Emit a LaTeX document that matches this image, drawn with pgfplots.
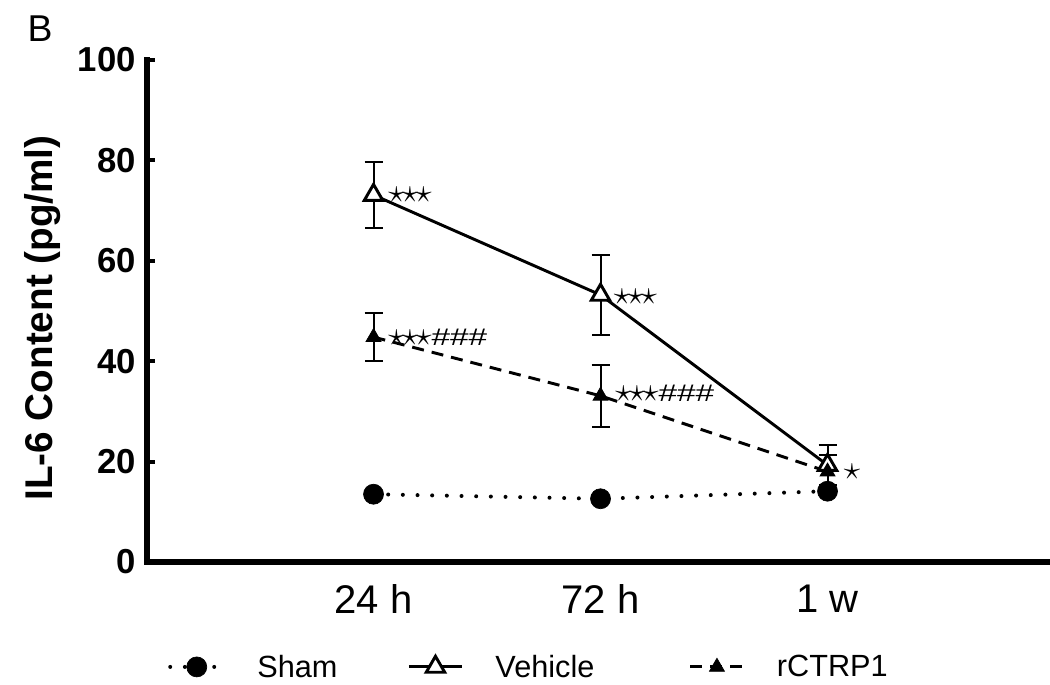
\documentclass[border=0pt]{standalone}
\usepackage{fontspec}
\setmainfont{Liberation Sans}
\usepackage{graphicx}
\usepackage{pgfplots}
\pgfplotsset{compat=1.18}

\pgfplotstableread{
x y e
1 73.1 6.6
2 53.2 8.0
3 19.3 4.0
}\vehicle
\pgfplotstableread{
x y e
1 44.8 4.8
2 33.1 6.2
3 18.0 3.3
}\rctrp
\pgfplotstableread{
x y
1 13.5
2 12.6
3 14.1
}\sham

\newcommand{\sstar}[1]{{\fontsize{25}{25}\selectfont$#1$}}
\newcommand{\three}{{\star}\mkern-1.5mu{\star}\mkern-1.5mu{\star}}
\newcommand{\hh}{{\fontsize{25}{25}\selectfont\scalebox{1}[0.72]{\#\#\#}}}

\begin{document}
\begin{tikzpicture}
\begin{axis}[
  scale only axis, width=681pt, height=376.5pt,
  xmin=0, xmax=4, ymin=0, ymax=100,
  clip=false,
  axis x line*=bottom, axis y line*=left,
  axis line style={line width=4.5pt, line cap=rect},
  xtick={1,2,3}, xticklabels={24 h,72 h,1 w},
  x tick style={draw=none},
  ytick={0,20,...,100},
  tick align=inside,
  y tick style={line width=3pt, black},
  major tick length=6.3pt,
  /pgf/number format/assume math mode=true,
  yticklabel style={font=\bfseries\fontsize{26}{26}\selectfont, inner sep=0pt, anchor=east, xshift=-8pt},
  xticklabel style={font=\fontsize{30}{30}\selectfont, inner sep=0pt, anchor=north, yshift=-17pt},
  ylabel={IL-6 Content (pg/ml)},
  every axis y label/.style={at={([xshift=-77.6pt]axis description cs:0,0.486)}, rotate=90, anchor=center, font=\bfseries\fontsize{29}{29}\selectfont},
  legend columns=3,
  legend style={at={(axis description cs:0.0236,-0.209)}, anchor=west, draw=none, fill=none, inner sep=0pt,
    font=\fontsize{23}{23}\selectfont, nodes={inner sep=0pt},
    /tikz/every odd column/.append style={column sep=24pt},
    /tikz/column 2/.append style={column sep=52.5pt},
    /tikz/column 4/.append style={column sep=70.9pt}},
  legend image code/.code={\draw[mark repeat=2,mark phase=2] plot coordinates {(0cm,0cm) (0.7cm,0cm) (1.4cm,0cm)};},
]
\addplot[black, line width=3pt, dash pattern=on 0pt off 11pt, line cap=round,
  mark=*, mark size=7.5pt, mark options={solid, fill=black, line width=0.5pt}]
  table[x=x, y=y] {\sham};
\addlegendentry{Sham}
\addplot[black, line width=2.2pt, mark=triangle*, mark size=8pt,
  mark options={solid, fill=white, line width=2.2pt},
  error bars/.cd, y dir=both, y explicit,
  error bar style={line width=1.5pt, solid},
  error mark options={rotate=90, mark size=6.75pt, line width=1.5pt, solid}]
  table[x=x, y=y, y error=e] {\vehicle};
\addlegendentry{Vehicle}
\addplot[black, line width=2.2pt, dash pattern=on 9pt off 6pt, mark=triangle*, mark size=6.5pt,
  mark options={solid, fill=black, line width=0.5pt},
  error bars/.cd, y dir=both, y explicit,
  error bar style={line width=1.5pt, solid},
  error mark options={rotate=90, mark size=6.75pt, line width=1.5pt, solid}]
  table[x=x, y=y, y error=e] {\rctrp};
\addlegendentry{rCTRP1}

\node[anchor=west, inner sep=0pt, xshift=11pt] at (axis cs:1,73.1) {\sstar{\three}};
\node[anchor=west, inner sep=0pt, xshift=11pt] at (axis cs:1,44.8) {\sstar{\three}\hh};
\node[anchor=west, inner sep=0pt, xshift=9.75pt] at (axis cs:2,52.8) {\sstar{\three}};
\node[anchor=west, inner sep=0pt, xshift=11pt] at (axis cs:2,33.7) {\sstar{\three}\hh};
\node[anchor=west, inner sep=0pt, xshift=12pt] at (axis cs:3,17.9) {\sstar{\star}};

\node[font=\fontsize{28}{28}\selectfont, inner sep=0pt] at ([xshift=-79.9pt, yshift=23.6pt]axis description cs:0,1) {B};
\end{axis}
\pgfresetboundingbox
\path ([xshift=-109.9pt, yshift=-92.25pt]current axis.south west) rectangle ([xshift=677.6pt, yshift=421.5pt]current axis.south west);
\end{tikzpicture}
\end{document}
